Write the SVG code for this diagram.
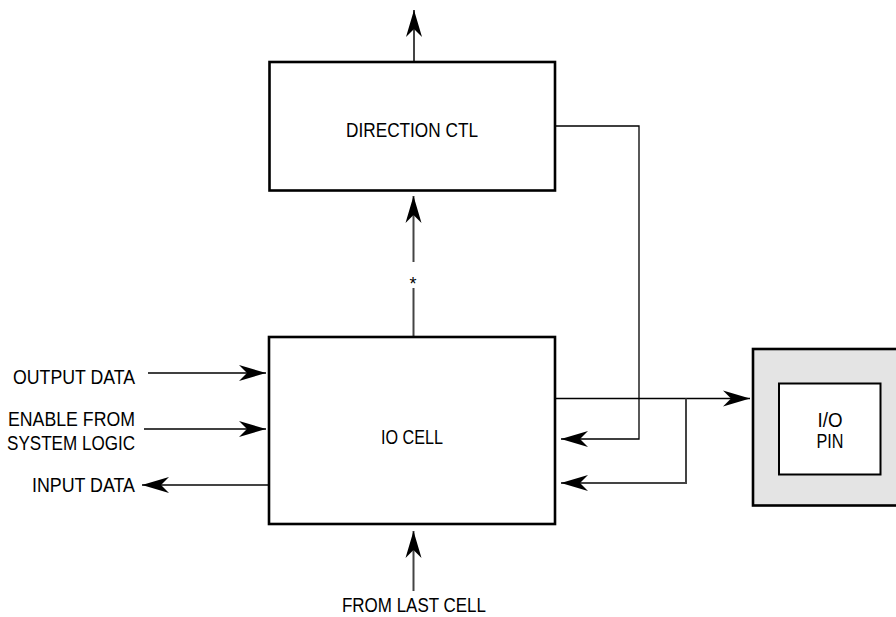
<svg xmlns="http://www.w3.org/2000/svg" width="896" height="617" viewBox="0 0 896 617">
<style>
.box{fill:#fff;stroke:#000;stroke-width:2.6}
.pin{fill:#e4e4e4;stroke:#000;stroke-width:2.6}
.inner{fill:#fff;stroke:#000;stroke-width:2}
.ln{fill:none;stroke:#000;stroke-width:1.3}
.lv{fill:none;stroke:#444;stroke-width:2}
text{font-family:"Liberation Sans",Arial,sans-serif;fill:#000}
</style>
<defs>
<marker id="ah" markerUnits="userSpaceOnUse" markerWidth="32" markerHeight="20" viewBox="-30 -10 32 20" refX="0" refY="0" orient="auto">
<path d="M0,0 L-27,-8 L-19,0 L-27,8 Z" fill="#000"/>
</marker>
</defs>
<g id="connectors">
<line class="lv" x1="414" y1="62" x2="414" y2="10" marker-end="url(#ah)"/>
<line class="lv" x1="413.5" y1="262" x2="413.5" y2="196" marker-end="url(#ah)"/>
<line class="lv" x1="413.5" y1="288" x2="413.5" y2="337"/>
<line class="ln" x1="148" y1="373" x2="266" y2="373" marker-end="url(#ah)"/>
<line class="ln" x1="144" y1="429" x2="266" y2="429" marker-end="url(#ah)"/>
<line class="lv" x1="269" y1="485" x2="142" y2="485" marker-end="url(#ah)"/>
<line class="ln" x1="555" y1="398.5" x2="750" y2="398.5" marker-end="url(#ah)"/>
<polyline class="ln" points="555,126 639,126 639,439 561,439" marker-end="url(#ah)"/>
<polyline class="lv" points="686,398.5 686,483 561,483" marker-end="url(#ah)"/>
<line class="lv" x1="413.5" y1="591" x2="413.5" y2="531" marker-end="url(#ah)"/>
</g>
<g id="direction-ctl">
<rect class="box" x="269.5" y="62" width="285.5" height="128.5"/>
<text x="412" y="137" text-anchor="middle" textLength="132" lengthAdjust="spacingAndGlyphs" font-size="20">DIRECTION CTL</text>
</g>
<g id="io-cell">
<rect class="box" x="269" y="337" width="286" height="187"/>
<text x="412" y="444" text-anchor="middle" textLength="62" lengthAdjust="spacingAndGlyphs" font-size="20">IO CELL</text>
</g>
<g id="io-pin">
<rect class="pin" x="753" y="349" width="145" height="156.5"/>
<rect class="inner" x="779" y="383.5" width="101.5" height="91"/>
<text x="830" y="426.5" text-anchor="middle" font-size="20" textLength="25" lengthAdjust="spacingAndGlyphs">I/O</text>
<text x="830" y="447.5" text-anchor="middle" font-size="20" textLength="27" lengthAdjust="spacingAndGlyphs">PIN</text>
</g>
<g id="labels">
<text x="135" y="384" text-anchor="end" textLength="122" lengthAdjust="spacingAndGlyphs" font-size="20">OUTPUT DATA</text>
<text x="135" y="426" text-anchor="end" textLength="127" lengthAdjust="spacingAndGlyphs" font-size="20">ENABLE FROM</text>
<text x="135" y="450" text-anchor="end" textLength="128" lengthAdjust="spacingAndGlyphs" font-size="20">SYSTEM LOGIC</text>
<text x="135" y="491.5" text-anchor="end" textLength="103" lengthAdjust="spacingAndGlyphs" font-size="20">INPUT DATA</text>
<text x="413" y="290" text-anchor="middle" font-size="18">*</text>
<text x="414" y="612" text-anchor="middle" textLength="144" lengthAdjust="spacingAndGlyphs" font-size="20">FROM LAST CELL</text>
</g>
</svg>
